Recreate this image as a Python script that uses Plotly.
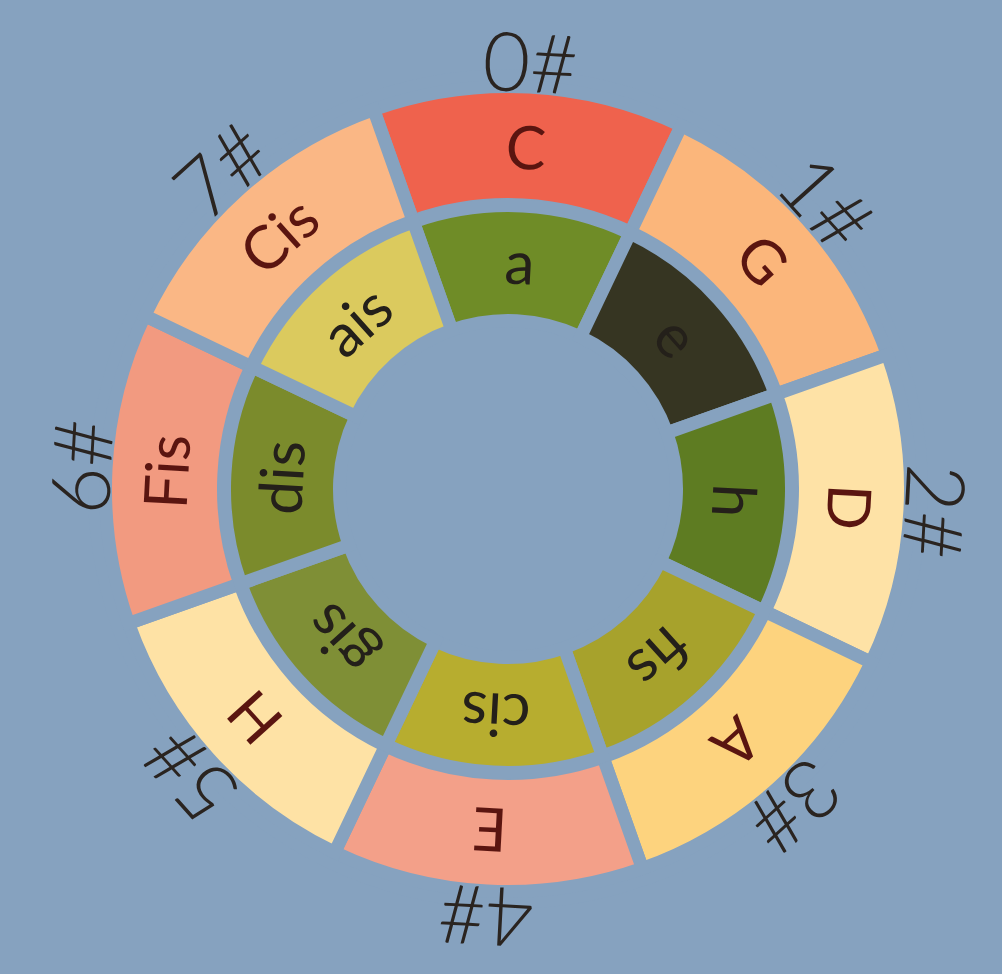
import math
import plotly.graph_objects as go

# ---------------- data ----------------
majors = ["C", "G", "D", "A", "E", "H", "Fis", "Cis"]
minors = ["a", "e", "h", "fis", "cis", "gis", "dis", "ais"]
sharps = ["0#", "1#", "2#", "3#", "4#", "5#", "6#", "7#"]
major_colors = ["#ef624d", "#fbb67b", "#fee2a6", "#fdd37e",
                "#f3a089", "#fee2a5", "#f29a80", "#fab785"]
minor_colors = ["#6f8c27", "#363522", "#5e7c22", "#a7a22c",
                "#b7ad2f", "#7f8f36", "#7b8b2c", "#dbca5e"]

# ---------------- style ----------------
BG = "#86a2bf"
W, H = 1002, 974
CX, CY, RMAX = 508, 489, 420
STEP = 360 / len(majors)
ROT = 3  # clockwise tilt of the wheel

thetas = [i * STEP for i in range(len(majors))]

fig = go.Figure()
# outer ring (major keys)
fig.add_trace(go.Barpolar(
    theta=thetas, r=[118] * len(majors), base=284.5, width=[STEP] * len(majors),
    marker=dict(color=major_colors, line=dict(color=BG, width=13)),
    hoverinfo="skip", showlegend=False,
))
# inner ring (minor keys)
fig.add_trace(go.Barpolar(
    theta=thetas, r=[115] * len(minors), base=168.5, width=[STEP] * len(minors),
    marker=dict(color=minor_colors, line=dict(color=BG, width=13)),
    hoverinfo="skip", showlegend=False,
))

dx = RMAX / W
dy = RMAX / H
px, py = CX / W, 1 - CY / H
dom_x = [px - dx, px + dx]
dom_y = [py - dy, py + dy]

fig.update_layout(
    width=W, height=H,
    margin=dict(l=0, r=0, t=0, b=0),
    paper_bgcolor=BG, plot_bgcolor=BG,
    polar=dict(
        domain=dict(x=dom_x, y=dom_y),
        bgcolor=BG,
        radialaxis=dict(range=[0, RMAX], visible=False),
        angularaxis=dict(visible=False, rotation=90 - ROT, direction="clockwise"),
        bargap=0,
    ),
    # pixel-scaled helper axes for the labels, centred on the wheel
    xaxis=dict(domain=[0, 1], range=[-CX, W - CX], visible=False, fixedrange=True),
    yaxis=dict(domain=[0, 1], range=[-(H - CY), CY], visible=False, fixedrange=True),
)

FONT = "Lato, Open Sans, DejaVu Sans, sans-serif"

def place(labels, radius, size, color, weight):
    for i, lab in enumerate(labels):
        ang = thetas[i] + ROT
        a = math.radians(ang)
        fig.add_annotation(
            x=radius * math.sin(a), y=radius * math.cos(a),
            xref="x", yref="y", text=lab, showarrow=False,
            textangle=ang if ang <= 180 else ang - 360,
            xanchor="center", yanchor="middle",
            font=dict(family=FONT, size=size, color=color, weight=weight),
        )

place(majors, 343, 60, "#5a1510", 400)
place(minors, 228, 60, "#24201a", 400)
place(sharps, 430, 82, "#2a2420", 300)

fig.write_html(
    "out.html",
    config={"displayModeBar": False},
    post_script="document.body.style.margin='0';document.body.style.background='%s';" % BG,
)
